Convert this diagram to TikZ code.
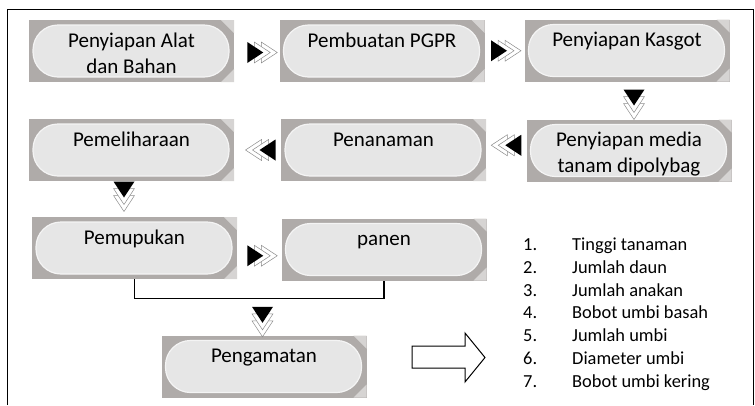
\documentclass[tikz,border=0pt]{standalone}
\usepackage{fontspec}
\setmainfont{Carlito}
\usetikzlibrary{calc}
\definecolor{boxgray}{RGB}{175,171,169}
\definecolor{capfill}{RGB}{230,230,230}
\definecolor{capedge}{RGB}{244,244,244}
\definecolor{cornergray}{RGB}{214,212,211}
\definecolor{chevgray}{RGB}{140,140,140}

\newcommand{\stagetext}[1]{\parbox[c][44pt][t]{196pt}{\centering\strut #1}}

\tikzset{
  stagebox/.style={rectangle, fill=boxgray, minimum width=205pt, minimum height=62pt, inner sep=0pt,
    font=\fontsize{21}{26}\selectfont,
    path picture={
      \fill[cornergray] ([xshift=-13pt]path picture bounding box.north east) -- (path picture bounding box.north east) -- ([yshift=-13pt]path picture bounding box.north east) -- cycle;
      \fill[cornergray] ([xshift=-13pt]path picture bounding box.south east) -- (path picture bounding box.south east) -- ([yshift=13pt]path picture bounding box.south east) -- cycle;
      \draw[capedge, fill=capfill, line width=1.2pt, rounded corners=25pt]
        ([shift={(4pt,-5pt)}]path picture bounding box.north west) rectangle ([shift={(-5pt,5pt)}]path picture bounding box.south east);
    }},
  pics/flow/.style={code={
    \foreach \d in {14,7}
      \filldraw[draw=chevgray, fill=white, line width=0.5pt] (-15+\d,-10.5) -- (1+\d,0) -- (-15+\d,10.5) -- cycle;
    \fill[black] (-15,-10.5) -- (1,0) -- (-15,10.5) -- cycle;
  }}
}

\begin{document}
\begin{tikzpicture}[x=1pt, y=-1pt]
  \useasboundingbox (0,0) rectangle (755,405);
  \draw[line width=1pt] (7,405) -- (7,9) -- (753,9) -- (753,405);

  \node[stagebox] (alat) at (131.5,51) {\stagetext{Penyiapan Alat\\dan Bahan}};
  \node[stagebox] (pgpr) at (382,51) {\stagetext{Pembuatan PGPR}};
  \node[stagebox] (kasgot) at (627,50.5) {\stagetext{Penyiapan Kasgot}};
  \node[stagebox] (media) at (629,150.5) {\stagetext{Penyiapan media\\tanam dipolybag}};
  \node[stagebox] (tanam) at (383.5,150) {\stagetext{Penanaman}};
  \node[stagebox] (pelihara) at (131.5,150) {\stagetext{Pemeliharaan}};
  \node[stagebox] (pupuk) at (134.5,248) {\stagetext{Pemupukan}};
  \node[stagebox] (panen) at (384,249.5) {\stagetext{panen}};
  \node[stagebox] (amat) at (264,366.5) {\stagetext{Pengamatan}};

  \pic at ($(alat.east)!0.5!(pgpr.west)+(5.5,1.5)$) {flow};
  \pic at ($(pgpr.east)!0.5!(kasgot.west)+(1.5,0)$) {flow};
  \pic[rotate=-90] at ($(kasgot.south)!0.5!(media.north)+(6,4)$) {flow};
  \pic[rotate=180] at ($(tanam.east)!0.5!(media.west)+(0,-5)$) {flow};
  \pic[rotate=180] at ($(pelihara.east)!0.5!(tanam.west)+(3,0)$) {flow};
  \pic[rotate=-90] at ($(pelihara.south)!0.5!(pupuk.north)+(-9,-2.5)$) {flow};
  \pic at ($(pupuk.east)!0.5!(panen.west)+(3,7)$) {flow};
  \pic[rotate=-90] at ($(amat.north)+(-1.5,-13.5)$) {flow};

  \draw[line width=1.3pt] (pupuk.south) -- ++(0,19) -| (panen.south);

  \draw[line width=1pt, fill=white] (412,346) -- (465,346) -- (465,333) -- (485,357.5) -- (465,382) -- (465,368) -- (412,368) -- cycle;

  \node[anchor=base west, inner sep=0pt, font=\fontsize{18.4}{22.8}\selectfont] (obs) at (523,250.5) {%
    \begin{tabular}[t]{@{}p{49pt}@{}l@{}}
      1. & Tinggi tanaman\\
      2. & Jumlah daun\\
      3. & Jumlah anakan\\
      4. & Bobot umbi basah\\
      5. & Jumlah umbi\\
      6. & Diameter umbi\\
      7. & Bobot umbi kering
    \end{tabular}};
\end{tikzpicture}
\end{document}
